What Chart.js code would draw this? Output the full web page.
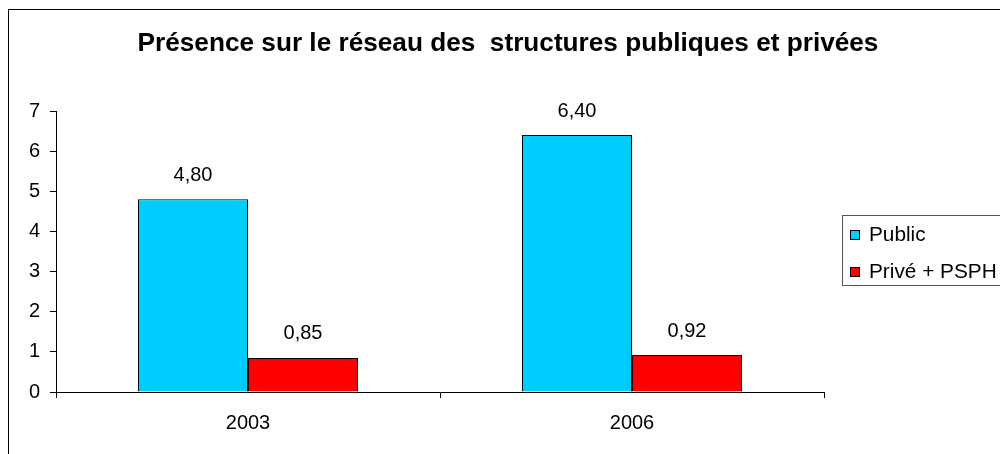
<!DOCTYPE html>
<html>
<head>
<meta charset="utf-8">
<script src="https://cdn.jsdelivr.net/npm/chart.js@4/dist/chart.umd.min.js"></script>
<style>
	html, body { margin: 0; padding: 0; background: #fff; }
</style>
</head>
<body>
<canvas id="chart" width="1000" height="454"></canvas>
<script>
const years = ['2003', '2006'];
const publicValues = [4.80, 6.40];
const priveValues = [0.85, 0.92];
const seriesNames = ['Public', 'Privé + PSPH'];
const seriesColors = ['#00ccff', '#ff0000'];
const yTicks = [0, 1, 2, 3, 4, 5, 6, 7];
const chartTitle = 'Présence sur le réseau des  structures publiques et privées';

const FONT = '"Liberation Sans", Arial, sans-serif';
Chart.defaults.font.family = FONT;
Chart.defaults.font.size = 20;
Chart.defaults.color = '#000';

// value labels above the bars, comma decimal like the original
const valueLabels = {
	id: 'valueLabels',
	afterDatasetsDraw(chart) {
		const ctx = chart.ctx;
		ctx.save();
		ctx.font = '20px ' + FONT;
		ctx.fillStyle = '#000';
		ctx.textAlign = 'center';
		ctx.textBaseline = 'middle';
		chart.data.datasets.forEach((ds, i) => {
			chart.getDatasetMeta(i).data.forEach((bar, j) => {
				ctx.fillText(ds.data[j].toFixed(2).replace('.', ','), bar.x, bar.y - 24);
			});
		});
		ctx.restore();
	}
};

// outer frame, title and boxed legend
const decor = {
	id: 'decor',
	afterDraw(chart) {
		const ctx = chart.ctx;
		ctx.save();
		ctx.strokeStyle = '#000';
		ctx.lineWidth = 1;
		ctx.strokeRect(8.5, 9.5, 1100, 600);

		ctx.font = 'bold 26.2px ' + FONT;
		ctx.fillStyle = '#000';
		ctx.textAlign = 'center';
		ctx.textBaseline = 'alphabetic';
		ctx.fillText(chartTitle, 508, 51);

		ctx.strokeStyle = '#555';
		ctx.strokeRect(842.5, 215.5, 300, 70);
		ctx.font = '20.8px ' + FONT;
		ctx.textAlign = 'left';
		ctx.textBaseline = 'middle';
		chart.data.datasets.forEach((ds, i) => {
			const y = 235 + i * 37;
			ctx.fillStyle = ds.backgroundColor;
			ctx.fillRect(850, y - 5, 10, 10);
			ctx.strokeStyle = '#000';
			ctx.strokeRect(850.5, y - 4.5, 9, 9);
			ctx.fillStyle = '#000';
			ctx.fillText(ds.label, 869, y);
		});
		ctx.restore();
	}
};

new Chart(document.getElementById('chart'), {
	type: 'bar',
	data: {
		labels: years,
		datasets: [{
			label: seriesNames[0],
			data: publicValues,
			backgroundColor: seriesColors[0]
		}, {
			label: seriesNames[1],
			data: priveValues,
			backgroundColor: seriesColors[1]
		}]
	},
	options: {
		responsive: false,
		animation: false,
		datasets: {
			bar: {
				categoryPercentage: 0.573,
				barPercentage: 1,
				borderColor: '#000',
				borderWidth: 1
			}
		},
		layout: {
			padding: { top: 111, right: 176, bottom: 0, left: 0 }
		},
		plugins: {
			legend: { display: false },
			title: { display: false },
			tooltip: { enabled: false }
		},
		scales: {
			x: {
				grid: { drawOnChartArea: false, tickLength: 6, color: '#000', offset: true },
				border: { color: '#000' },
				ticks: { padding: 13, color: '#000' },
				afterFit: s => { s.height = 62; }
			},
			y: {
				min: 0,
				max: 7,
				afterBuildTicks: s => { s.ticks = yTicks.map(v => ({ value: v })); },
				grid: { drawOnChartArea: false, tickLength: 6, color: '#000' },
				border: { color: '#000' },
				ticks: { padding: 10, color: '#000' },
				afterFit: s => { s.width = 56; }
			}
		}
	},
	plugins: [valueLabels, decor]
});
</script>
</body>
</html>
